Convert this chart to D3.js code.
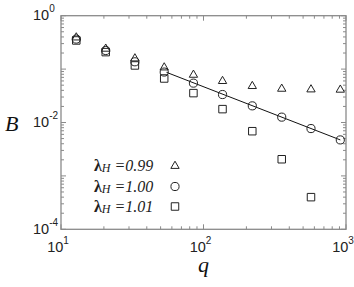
<!DOCTYPE html>
<html><head><meta charset="utf-8">
<script src="https://cdn.jsdelivr.net/npm/d3@7"></script>
<style>body{margin:0;background:#fff}svg{display:block}</style>
</head><body>
<svg id="c" width="354" height="287"></svg>
<script>
const qValues = [12.8, 20.6, 33, 53, 85, 136, 220, 354, 568, 912];
const B099 = [0.39, 0.24, 0.158, 0.107, 0.078, 0.0596, 0.048, 0.0427, 0.0415, 0.041];
const B100 = [0.365, 0.223, 0.137, 0.088, 0.0546, 0.0334, 0.0205, 0.0126, 0.0077, 0.00472];
const B101 = [0.344, 0.208, 0.117, 0.0667, 0.0355, 0.0178, 0.00687, 0.00205, 0.0004];
const fitQ = [55, 912];
const fitB = [0.087, 0.00472];
const xTickExp = [1, 2, 3];
const yTickExp = [0, -2, -4];
const legendLabels = ["=0.99", "=1.00", "=1.01"];

const svg = d3.select("#c");
const L = 61, R = 346, T = 15.7, Bt = 229.3;
const x = d3.scaleLog().domain([10, 1000]).range([L, R]);
const y = d3.scaleLog().domain([1e-4, 1]).range([Bt, T]);
const axisColor = "#8a8a8a";

// frame
svg.append("rect").attr("x", L).attr("y", T).attr("width", R - L).attr("height", Bt - T)
  .attr("fill", "none").attr("stroke", axisColor).attr("stroke-width", 1.3);

// ticks
const g = svg.append("g").attr("stroke", axisColor).attr("stroke-width", 1);
x.ticks().forEach(v => {
  const major = Math.abs(Math.log10(v) - Math.round(Math.log10(v))) < 1e-9;
  const len = major ? 5 : 3;
  const px = x(v);
  g.append("line").attr("x1", px).attr("x2", px).attr("y1", Bt).attr("y2", Bt - len);
  g.append("line").attr("x1", px).attr("x2", px).attr("y1", T).attr("y2", T + len);
});
y.ticks().forEach(v => {
  const major = Math.abs(Math.log10(v) - Math.round(Math.log10(v))) < 1e-9;
  const len = major ? 5 : 3;
  const py = y(v);
  g.append("line").attr("y1", py).attr("y2", py).attr("x1", L).attr("x2", L + len);
  g.append("line").attr("y1", py).attr("y2", py).attr("x1", R).attr("x2", R - len);
});

// tick labels
const tf = "Liberation Sans, Arial, sans-serif";
xTickExp.forEach(e => {
  const t = svg.append("text").attr("x", x(Math.pow(10, e)) - 3).attr("y", 252)
    .attr("text-anchor", "middle").attr("font-family", tf).attr("font-size", 14.5).attr("fill", "#222");
  t.append("tspan").text("10");
  t.append("tspan").attr("dy", -8).attr("font-size", 10).text(e);
});
yTickExp.forEach(e => {
  const t = svg.append("text").attr("x", 33).attr("y", y(Math.pow(10, e)) + 4.5)
    .attr("font-family", tf).attr("font-size", 14.5).attr("fill", "#222");
  t.append("tspan").text("10");
  t.append("tspan").attr("dy", -8).attr("font-size", 10).text(e);
});

// axis titles
svg.append("text").attr("x", 5).attr("y", 131).attr("font-family", "Liberation Serif, serif")
  .attr("font-style", "italic").attr("font-size", 22).attr("fill", "#111").text("B");
svg.append("text").attr("x", 198).attr("y", 272).attr("font-family", "Liberation Serif, serif")
  .attr("font-style", "italic").attr("font-size", 22).attr("fill", "#111").text("q");

// fit line
svg.append("path")
  .attr("d", d3.line().x(d => x(d[0])).y(d => y(d[1]))(fitQ.map((q, i) => [q, fitB[i]])))
  .attr("stroke", "#111").attr("stroke-width", 1).attr("fill", "none");

// markers
const mk = { stroke: "#222", sw: 1 };
const tri = d3.symbol().type(d3.symbolTriangle).size(30);
const cir = d3.symbol().type(d3.symbolCircle).size(52);
const sq = d3.symbol().type(d3.symbolSquare).size(56);
function drawSeries(vals, sym) {
  svg.append("g").selectAll("path").data(vals).join("path")
    .attr("transform", (d, i) => `translate(${x(qValues[i])},${y(d)})`)
    .attr("d", sym).attr("fill", "none").attr("stroke", mk.stroke).attr("stroke-width", mk.sw);
}
drawSeries(B099, tri);
drawSeries(B100, cir);
drawSeries(B101, sq);

// legend
const syms = [tri, cir, sq];
const rowsY = [171, 191.5, 211.5];
legendLabels.forEach((lab, i) => {
  const t = svg.append("text").attr("x", 94).attr("y", rowsY[i])
    .attr("font-family", "Liberation Serif, serif").attr("font-size", 16).attr("fill", "#222");
  t.append("tspan").attr("font-weight", "bold").text("λ");
  t.append("tspan").attr("font-style", "italic").attr("font-size", 12).attr("dy", 1).text("H");
  t.append("tspan").attr("font-style", "italic").attr("dy", -1).text(" " + lab);
  svg.append("path").attr("transform", `translate(175,${rowsY[i] - 5})`).attr("d", syms[i])
    .attr("fill", "none").attr("stroke", mk.stroke).attr("stroke-width", mk.sw);
});
</script>
</body></html>
